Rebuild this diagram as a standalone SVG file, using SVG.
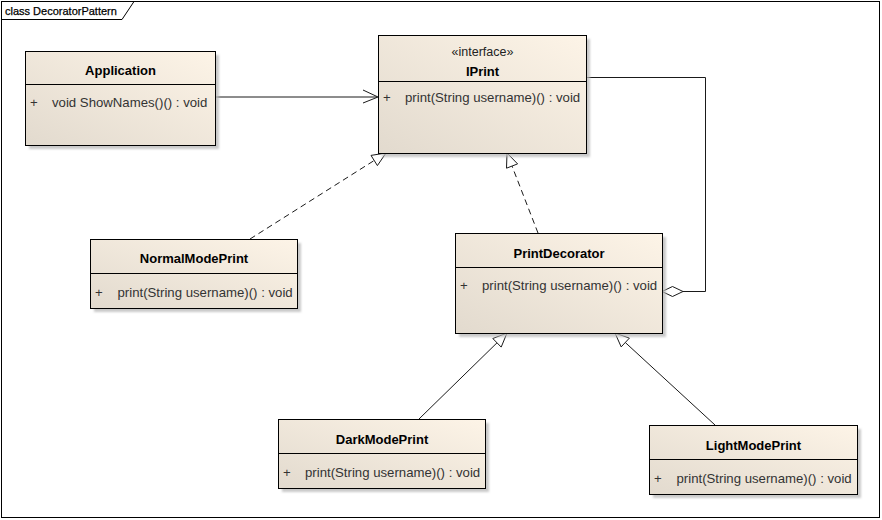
<svg xmlns="http://www.w3.org/2000/svg" width="882" height="520" viewBox="0 0 882 520">
<style>
.box{fill:url(#cls);stroke:#000;stroke-width:1}
.sh{fill:#b8b8b8;opacity:.75;filter:url(#blur)}
.sep{stroke:#000;stroke-width:1}
.t{font-family:"Liberation Sans",Arial,sans-serif;font-size:13px;font-weight:bold;fill:#000;text-anchor:middle}
.st{font-family:"Liberation Sans",Arial,sans-serif;font-size:12.5px;fill:#222;text-anchor:middle}
.m{font-family:"Liberation Sans",Arial,sans-serif;font-size:13.2px;fill:#333}
.c{stroke:#1a1a1a;stroke-width:1;fill:none}
.d{stroke-dasharray:6,4}
.tri{fill:#fff;stroke:#1a1a1a;stroke-width:1}
</style>
<defs>
<linearGradient id="cls" x1="0" y1="1" x2="1" y2="0">
<stop offset="0" stop-color="#e2dace"/>
<stop offset="1" stop-color="#fdf4e7"/>
</linearGradient>
<filter id="blur" x="-10%" y="-10%" width="120%" height="120%"><feGaussianBlur stdDeviation="1"/></filter>
</defs>
<rect x="0" y="0" width="882" height="520" fill="#fff"/>
<g id="frame">
<rect x="1.5" y="1.5" width="878" height="516" fill="none" stroke="#000"/>
<path d="M1.5,19.5 H122 L134,1.5" fill="none" stroke="#000"/>
<text x="5" y="14.5" style="font-family:'Liberation Sans',Arial,sans-serif;font-size:11px;fill:#000;stroke:#000;stroke-width:0.25">class DecoratorPattern</text>
</g>
<g id="connectors">
<path class="c" d="M215,97 H377"/>
<path class="c" d="M363,90 L378,97 L363,103"/>
<path class="c d" d="M250,239 L374.2,160.5"/>
<polygon class="tri" points="386,153 377.4,165.6 371,155.4"/>
<path class="c d" d="M538,233 L512,166"/>
<polygon class="tri" points="507,153 517.6,163.9 506.5,168.2"/>
<path class="c" d="M586.5,77.5 H705.5 V291.5 H683"/>
<polygon class="tri" points="662,291.5 672.5,286.5 683,291.5 672.5,296.5"/>
<path class="c" d="M419,419 L497,342.8"/>
<polygon class="tri" points="507,333 501.2,347.1 492.8,338.5"/>
<path class="c" d="M715,425 L625.3,342.5"/>
<polygon class="tri" points="615,333 629.4,338.1 621.2,346.9"/>
</g>
<g id="Application">
<rect class="sh" x="29" y="55" width="190" height="94"/>
<rect class="box" x="25.5" y="51.5" width="190" height="94"/>
<line class="sep" x1="25.5" y1="84.5" x2="215.5" y2="84.5"/>
<text class="t" x="120.5" y="75">Application</text>
<text class="m" x="30" y="107">+</text>
<text class="m" x="52" y="107">void ShowNames()() : void</text>
</g>
<g id="IPrint">
<rect class="sh" x="382" y="39" width="208" height="118"/>
<rect class="box" x="378.5" y="35.5" width="208" height="118"/>
<line class="sep" x1="378.5" y1="81.5" x2="586.5" y2="81.5"/>
<text class="st" x="482.5" y="56">«interface»</text>
<text class="t" x="482.5" y="76">IPrint</text>
<text class="m" x="383" y="102">+</text>
<text class="m" x="405" y="102">print(String username)() : void</text>
</g>
<g id="NormalModePrint">
<rect class="sh" x="94" y="243" width="207" height="69"/>
<rect class="box" x="90.5" y="239.5" width="207" height="69"/>
<line class="sep" x1="90.5" y1="273.5" x2="297.5" y2="273.5"/>
<text class="t" x="194" y="263">NormalModePrint</text>
<text class="m" x="95" y="297">+</text>
<text class="m" x="117.5" y="297">print(String username)() : void</text>
</g>
<g id="PrintDecorator">
<rect class="sh" x="459" y="237" width="207" height="100"/>
<rect class="box" x="455.5" y="233.5" width="207" height="100"/>
<line class="sep" x1="455.5" y1="267.5" x2="662.5" y2="267.5"/>
<text class="t" x="559" y="257.5">PrintDecorator</text>
<text class="m" x="460" y="290">+</text>
<text class="m" x="482" y="290">print(String username)() : void</text>
</g>
<g id="DarkModePrint">
<rect class="sh" x="282" y="423" width="207" height="69"/>
<rect class="box" x="278.5" y="419.5" width="207" height="69"/>
<line class="sep" x1="278.5" y1="453.5" x2="485.5" y2="453.5"/>
<text class="t" x="382" y="443.5">DarkModePrint</text>
<text class="m" x="283" y="477">+</text>
<text class="m" x="305" y="477">print(String username)() : void</text>
</g>
<g id="LightModePrint">
<rect class="sh" x="653" y="429" width="208" height="69"/>
<rect class="box" x="649.5" y="425.5" width="208" height="69"/>
<line class="sep" x1="649.5" y1="459.5" x2="857.5" y2="459.5"/>
<text class="t" x="753.5" y="449.5">LightModePrint</text>
<text class="m" x="654" y="483">+</text>
<text class="m" x="676.5" y="483">print(String username)() : void</text>
</g>
</svg>
